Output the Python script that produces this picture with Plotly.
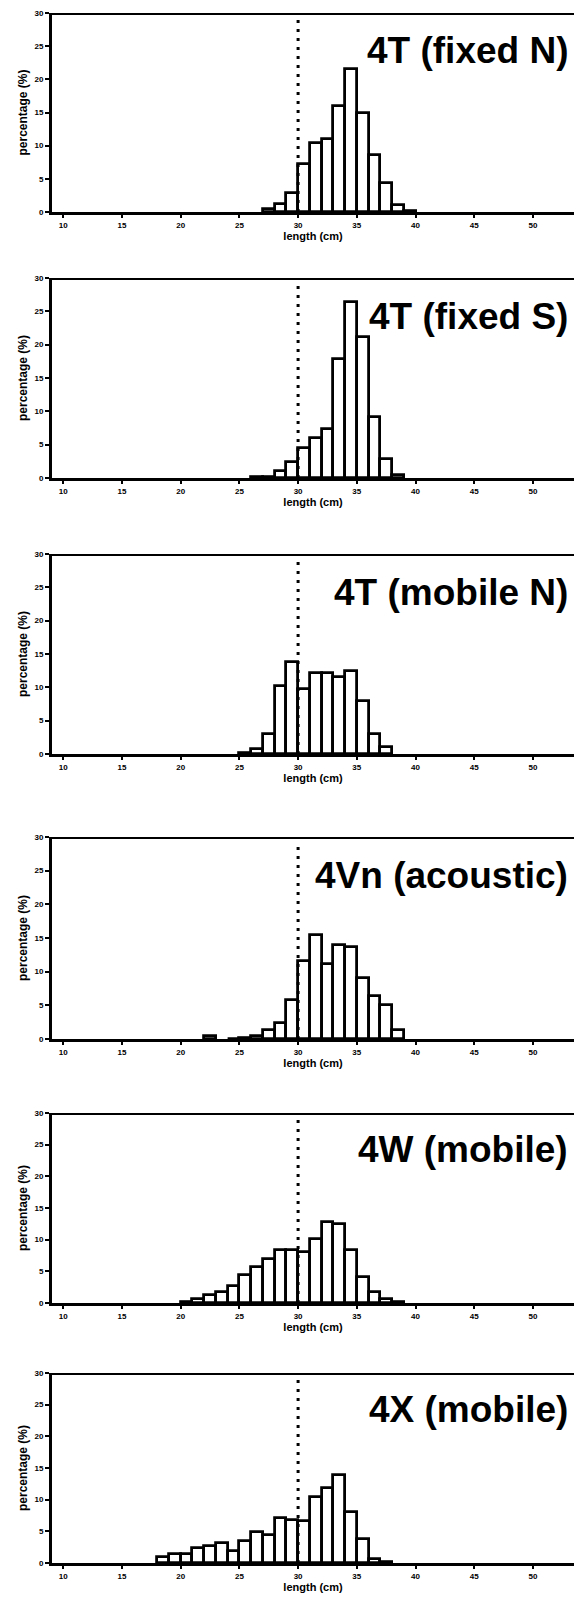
import plotly.graph_objects as go

# ---------------- data ----------------
panel_titles = ["4T (fixed N)", "4T (fixed S)", "4T (mobile N)",
                "4Vn (acoustic)", "4W (mobile)", "4X (mobile)"]

# bin start (cm) for each bar, and percentage values
bins_1 = [27, 28, 29, 30, 31, 32, 33, 34, 35, 36, 37, 38, 39]
pct_1 = [0.4, 1.2, 2.8, 7.2, 10.4, 11.0, 16.0, 21.6, 15.0, 8.6, 4.3, 1.1, 0.2]

bins_2 = [26, 27, 28, 29, 30, 31, 32, 33, 34, 35, 36, 37, 38]
pct_2 = [0.1, 0.2, 1.0, 2.4, 4.5, 6.0, 7.4, 17.8, 26.4, 21.1, 9.2, 2.9, 0.4]

bins_3 = [25, 26, 27, 28, 29, 30, 31, 32, 33, 34, 35, 36, 37]
pct_3 = [0.1, 0.8, 3.0, 10.2, 13.8, 9.7, 12.2, 12.1, 11.6, 12.5, 8.0, 3.0, 1.0]

bins_4 = [22, 24, 25, 26, 27, 28, 29, 30, 31, 32, 33, 34, 35, 36, 37, 38]
pct_4 = [0.4, 0.05, 0.1, 0.4, 1.3, 2.4, 5.8, 11.6, 15.4, 11.2, 13.9, 13.7, 9.1, 6.4, 5.1, 1.3]

bins_5 = [20, 21, 22, 23, 24, 25, 26, 27, 28, 29, 30, 31, 32, 33, 34, 35, 36, 37, 38]
pct_5 = [0.2, 0.6, 1.3, 1.8, 2.7, 4.5, 5.7, 6.9, 8.3, 8.4, 8.0, 10.1, 12.8, 12.5, 8.3, 4.1, 1.8, 0.6, 0.1]

bins_6 = [18, 19, 20, 21, 22, 23, 24, 25, 26, 27, 28, 29, 30, 31, 32, 33, 34, 35, 36, 37]
pct_6 = [0.9, 1.5, 1.5, 2.3, 2.7, 3.2, 1.9, 3.4, 4.9, 4.5, 7.1, 6.8, 6.6, 10.4, 11.8, 13.9, 8.1, 3.8, 0.6, 0.1]

ref_length = 30  # dotted reference line (cm)

x_ticks = [10, 15, 20, 25, 30, 35, 40, 45, 50]
y_ticks = [0, 5, 10, 15, 20, 25, 30]

bins_all = [bins_1, bins_2, bins_3, bins_4, bins_5, bins_6]
pct_all = [pct_1, pct_2, pct_3, pct_4, pct_5, pct_6]

# ---------------- layout geometry (pixels) ----------------
W, H = 574, 1606
panel_px = [(13, 212), (278, 478), (554, 754), (837, 1039), (1113, 1303), (1373, 1563)]
x_left_px = 52

FONT = "Liberation Sans, Arial, sans-serif"

fig = go.Figure()
layout = {}
annotations = []
shapes = []

for i in range(6):
    n = i + 1
    xa = "x" if n == 1 else f"x{n}"
    ya = "y" if n == 1 else f"y{n}"
    centers = [b + 0.5 for b in bins_all[i]]
    fig.add_trace(go.Bar(
        x=centers, y=pct_all[i], width=1.0,
        marker=dict(color="white", line=dict(color="black", width=2.8)),
        xaxis=xa, yaxis=ya, showlegend=False, hoverinfo="x+y",
    ))
    top, bot = panel_px[i]
    layout[f"xaxis{n}"] = dict(
        domain=[x_left_px / W, 1.0], range=[9.04, 53.5], anchor=ya,
        tickmode="array", tickvals=x_ticks, ticktext=[str(v) for v in x_ticks],
        ticks="outside", ticklen=3, tickwidth=2, tickcolor="black",
        showline=True, linecolor="black", linewidth=3,
        showgrid=False, zeroline=False,
        tickfont=dict(family=FONT, size=8, color="black", weight="bold"),
        title=dict(text="length (cm)", standoff=3,
                   font=dict(family=FONT, size=11, color="black", weight="bold")),
        automargin=False, fixedrange=True,
    )
    layout[f"yaxis{n}"] = dict(
        domain=[1 - bot / H, 1 - top / H], range=[0, 30], anchor=xa,
        tickmode="array", tickvals=y_ticks, ticktext=[str(v) for v in y_ticks],
        ticks="outside", ticklen=4, tickwidth=2, tickcolor="black",
        showline=True, linecolor="black", linewidth=3,
        showgrid=False, zeroline=False,
        tickfont=dict(family=FONT, size=8, color="black", weight="bold"),
        title=dict(text="percentage (%)", standoff=5,
                   font=dict(family=FONT, size=12, color="black", weight="bold")),
        automargin=False, fixedrange=True,
    )
    # top frame line
    shapes.append(dict(type="line", xref=f"{xa} domain", yref=ya,
                       x0=0, x1=1, y0=30, y1=30,
                       line=dict(color="black", width=4)))
    # dotted reference line
    shapes.append(dict(type="line", xref=xa, yref=ya,
                       x0=ref_length, x1=ref_length, y0=0, y1=29,
                       line=dict(color="black", width=3, dash="3px,6px")))
    annotations.append(dict(
        text=panel_titles[i], xref="paper", yref=f"{ya} domain",
        x=570 / W, y=0.81, xanchor="right", yanchor="middle", showarrow=False,
        font=dict(family=FONT, size=37, color="black", weight="bold"),
    ))

fig.update_layout(
    width=W, height=H, margin=dict(l=0, r=0, t=0, b=0),
    paper_bgcolor="white", plot_bgcolor="white",
    bargap=0, annotations=annotations, shapes=shapes,
    **layout,
)

fig.write_html("out.html")
